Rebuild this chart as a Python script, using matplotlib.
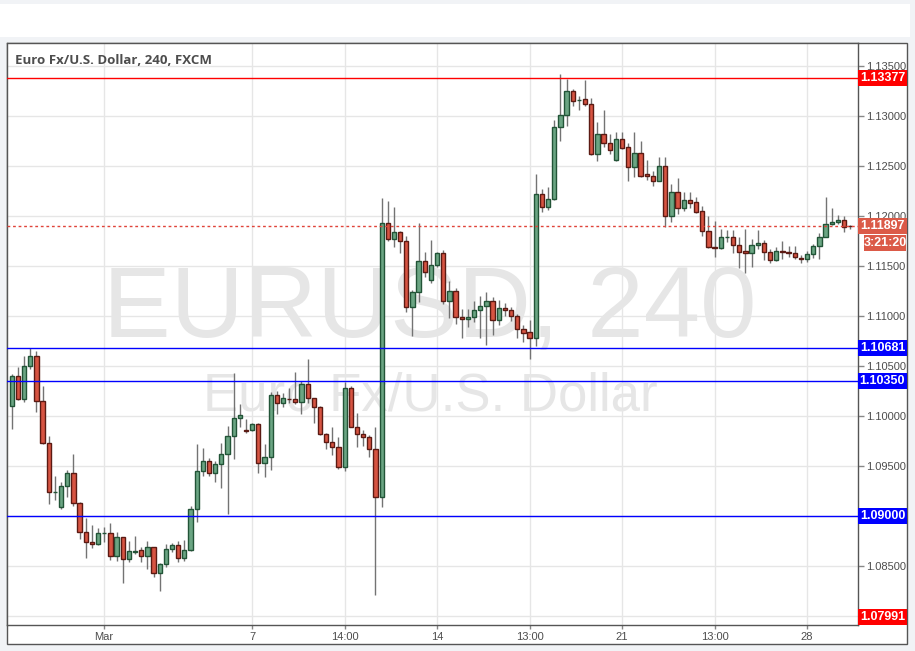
import numpy as np
import matplotlib
matplotlib.use('Agg')
from matplotlib import pyplot as plt
from matplotlib.patches import Rectangle
from matplotlib.transforms import blended_transform_factory


# =============================================================================
# Data (EUR/USD, 4h candles)
# =============================================================================
opens = [
    1.10097, 1.10397, 1.10167, 1.10500, 1.10600, 1.10150, 1.09727, 1.09237,
    1.09093, 1.09300, 1.09427, 1.09133, 1.08837, 1.08737, 1.08717, 1.08827,
    1.08830, 1.08597, 1.08787, 1.08567, 1.08643, 1.08657, 1.08597, 1.08687,
    1.08427, 1.08517, 1.08667, 1.08707, 1.08577, 1.08657, 1.09067, 1.09447,
    1.09547, 1.09427, 1.09517, 1.09617, 1.09797, 1.09977, 1.09860, 1.09860,
    1.09917, 1.09527, 1.09587, 1.10207, 1.10127, 1.10173, 1.10167, 1.10137,
    1.10320, 1.10177, 1.10087, 1.09817, 1.09743, 1.09693, 1.09493, 1.10277,
    1.09893, 1.09817, 1.09793, 1.09667, 1.09187, 1.11927, 1.11767, 1.11837,
    1.11753, 1.11093, 1.11237, 1.11547, 1.11357, 1.11507, 1.11627, 1.11147,
    1.11247, 1.10993, 1.10967, 1.10987, 1.11057, 1.11097, 1.11147, 1.10957,
    1.11080, 1.11057, 1.10997, 1.10867, 1.10837, 1.10783, 1.12217, 1.12093,
    1.12167, 1.12890, 1.13007, 1.13247, 1.13157, 1.13167, 1.13117, 1.12623,
    1.12817, 1.12727, 1.12557, 1.12767, 1.12687, 1.12487, 1.12627, 1.12417,
    1.12400, 1.12353, 1.12500, 1.12003, 1.12237, 1.12083, 1.12157, 1.12137,
    1.12047, 1.11847, 1.11687, 1.11677, 1.11787, 1.11787, 1.11707, 1.11647,
    1.11627, 1.11707, 1.11730, 1.11637, 1.11563, 1.11650, 1.11640, 1.11627,
    1.11580, 1.11567, 1.11617, 1.11700, 1.11793, 1.11920, 1.11937, 1.11957,
    1.11903]
highs = [
    1.10420, 1.10487, 1.10600, 1.10680, 1.10650, 1.10300, 1.09800, 1.09400,
    1.09340, 1.09460, 1.09620, 1.09140, 1.08977, 1.08910, 1.08880, 1.08893,
    1.08927, 1.08843, 1.08787, 1.08753, 1.08800, 1.08693, 1.08750, 1.08687,
    1.08527, 1.08717, 1.08733, 1.08753, 1.08760, 1.09103, 1.09720, 1.09680,
    1.09580, 1.09550, 1.09733, 1.09900, 1.10430, 1.10120, 1.09970, 1.09927,
    1.09933, 1.09720, 1.10240, 1.10250, 1.10230, 1.10280, 1.10440, 1.10353,
    1.10570, 1.10180, 1.10100, 1.09827, 1.09887, 1.09790, 1.10343, 1.10300,
    1.10030, 1.09860, 1.09810, 1.09887, 1.12180, 1.12150, 1.12090, 1.11847,
    1.11800, 1.11260, 1.11930, 1.11640, 1.11760, 1.11643, 1.11657, 1.11353,
    1.11277, 1.11070, 1.11070, 1.11150, 1.11197, 1.11240, 1.11187, 1.11160,
    1.11127, 1.11093, 1.11017, 1.10910, 1.10960, 1.12420, 1.12267, 1.12290,
    1.12957, 1.13420, 1.13370, 1.13267, 1.13200, 1.13360, 1.13177, 1.12943,
    1.13060, 1.12820, 1.12840, 1.12840, 1.12727, 1.12840, 1.12753, 1.12560,
    1.12453, 1.12593, 1.12593, 1.12320, 1.12383, 1.12240, 1.12240, 1.12190,
    1.12100, 1.12003, 1.11950, 1.11870, 1.11860, 1.11860, 1.11790, 1.11867,
    1.11767, 1.11860, 1.11757, 1.11670, 1.11693, 1.11747, 1.11700, 1.11700,
    1.11607, 1.11647, 1.11720, 1.11833, 1.12193, 1.12080, 1.12010, 1.12000,
    1.11910]
lows = [
    1.09867, 1.10160, 1.10143, 1.10467, 1.10043, 1.09717, 1.09117, 1.09160,
    1.09073, 1.09193, 1.09100, 1.08770, 1.08583, 1.08683, 1.08710, 1.08740,
    1.08560, 1.08553, 1.08333, 1.08537, 1.08620, 1.08537, 1.08467, 1.08393,
    1.08253, 1.08487, 1.08640, 1.08537, 1.08553, 1.08653, 1.08937, 1.09400,
    1.09403, 1.09343, 1.09283, 1.09023, 1.09573, 1.09893, 1.09833, 1.09853,
    1.09433, 1.09393, 1.09463, 1.10023, 1.10090, 1.10133, 1.10117, 1.10017,
    1.10127, 1.09933, 1.09810, 1.09673, 1.09610, 1.09470, 1.09453, 1.09887,
    1.09693, 1.09700, 1.09593, 1.08210, 1.09093, 1.11753, 1.11690, 1.11627,
    1.11043, 1.10803, 1.11143, 1.11387, 1.11333, 1.11487, 1.11120, 1.10983,
    1.10920, 1.10777, 1.10893, 1.10943, 1.10777, 1.10713, 1.10813, 1.10913,
    1.10997, 1.10947, 1.10777, 1.10743, 1.10570, 1.10700, 1.12040, 1.12063,
    1.12160, 1.12750, 1.12903, 1.13103, 1.13060, 1.13103, 1.12607, 1.12553,
    1.12693, 1.12623, 1.12553, 1.12670, 1.12353, 1.12390, 1.12393, 1.12360,
    1.12300, 1.12350, 1.11887, 1.11940, 1.12017, 1.12053, 1.12083, 1.12033,
    1.11800, 1.11680, 1.11590, 1.11670, 1.11743, 1.11633, 1.11483, 1.11433,
    1.11493, 1.11670, 1.11560, 1.11527, 1.11553, 1.11570, 1.11593, 1.11567,
    1.11527, 1.11537, 1.11577, 1.11570, 1.11793, 1.11910, 1.11923, 1.11843,
    1.11867]
closes = [
    1.10397, 1.10167, 1.10500, 1.10600, 1.10150, 1.09727, 1.09237, 1.09240,
    1.09300, 1.09427, 1.09133, 1.08837, 1.08737, 1.08717, 1.08827, 1.08833,
    1.08597, 1.08787, 1.08567, 1.08650, 1.08653, 1.08597, 1.08687, 1.08427,
    1.08517, 1.08667, 1.08707, 1.08577, 1.08657, 1.09067, 1.09447, 1.09547,
    1.09427, 1.09517, 1.09617, 1.09797, 1.09977, 1.10007, 1.09853, 1.09917,
    1.09527, 1.09587, 1.10207, 1.10127, 1.10177, 1.10167, 1.10137, 1.10320,
    1.10177, 1.10087, 1.09817, 1.09743, 1.09693, 1.09493, 1.10277, 1.09893,
    1.09817, 1.09793, 1.09667, 1.09187, 1.11927, 1.11767, 1.11837, 1.11753,
    1.11093, 1.11237, 1.11547, 1.11437, 1.11507, 1.11627, 1.11147, 1.11247,
    1.10993, 1.10967, 1.10990, 1.11057, 1.11097, 1.11147, 1.10957, 1.11077,
    1.11057, 1.10997, 1.10867, 1.10833, 1.10783, 1.12217, 1.12093, 1.12167,
    1.12890, 1.13007, 1.13247, 1.13153, 1.13163, 1.13117, 1.12623, 1.12817,
    1.12727, 1.12657, 1.12767, 1.12683, 1.12487, 1.12627, 1.12400, 1.12400,
    1.12353, 1.12500, 1.12003, 1.12237, 1.12083, 1.12157, 1.12133, 1.12040,
    1.11847, 1.11687, 1.11677, 1.11787, 1.11790, 1.11707, 1.11643, 1.11627,
    1.11707, 1.11730, 1.11637, 1.11563, 1.11650, 1.11640, 1.11627, 1.11587,
    1.11567, 1.11617, 1.11700, 1.11793, 1.11920, 1.11937, 1.11957, 1.11893,
    1.11897]

# x-axis ticks (candle index) and labels
xtick_pos = [15, 39, 54, 69, 84, 99, 114, 129]
xtick_labels = ['Mar', '7', '14:00', '14', '13:00', '21', '13:00', '28']

# Horizontal levels drawn on the chart
resistance = 1.13377
supports = [1.10681, 1.10350, 1.09000]
chart_low = 1.07991
countdown = '3:21:20'


# =============================================================================
# Plot parameters
# =============================================================================
W, H = 915, 651
up_fill, up_edge = '#6ba583', '#225437'
dn_fill, dn_edge = '#d75442', '#5b1a13'
wick_col = '#737373'
grid_col = '#e6e6e6'
frame_col = '#555555'
txt_col = '#4d4d4d'
font = ['Liberation Sans', 'DejaVu Sans']
plt.rcParams['font.family'] = font

fig = plt.figure(figsize=(W/100, H/100), dpi=100, facecolor='#f1f3f6')

# Toolbar band and chart frame
fig.patches.append(Rectangle((0, 1 - 37/H), 910/W, 33/H,
    transform=fig.transFigure, facecolor='white', edgecolor='none',
    zorder=-2))
fig.patches.append(Rectangle((7/W, 1 - 644/H), 900/W, 601/H,
    transform=fig.transFigure, facecolor='white', edgecolor=frame_col,
    linewidth=1, zorder=-1))

ax = fig.add_axes([7/W, 1 - 625/H, 851/W, 582/H])
ax.set_zorder(2)
ax.set_facecolor('white')
ax.set_axisbelow(True)

opens = np.asarray(opens)
closes = np.asarray(closes)
highs = np.asarray(highs)
lows = np.asarray(lows)
idx = np.arange(len(opens))
up = closes >= opens

# Wicks
ax.vlines(idx, lows, highs, color=wick_col, linewidth=1, zorder=2)

# Bodies
bottom = np.minimum(opens, closes)
height = np.maximum(np.abs(closes - opens), 0.00003)
ax.bar(idx[up], height[up], bottom=bottom[up], width=0.7, color=up_fill,
    edgecolor=up_edge, linewidth=1, zorder=3)
ax.bar(idx[~up], height[~up], bottom=bottom[~up], width=0.7, color=dn_fill,
    edgecolor=dn_edge, linewidth=1, zorder=3)

# Horizontal levels
ax.axhline(resistance, color='#ff0000', linewidth=1, zorder=4)
for lvl in supports:
    ax.axhline(lvl, color='#0000ff', linewidth=1, zorder=4)
last = closes[-1]
ax.axhline(last, color='#e0443a', linewidth=1, linestyle=(0, (2, 2)),
    zorder=4)

# Watermark
ax.text(0.497, 0.4948, 'EURUSD, 240', transform=ax.transAxes, ha='center',
    va='baseline', fontsize=73, color='#e6e6e6', zorder=1)
ax.text(0.497, 0.3694, 'Euro Fx/U.S. Dollar', transform=ax.transAxes,
    ha='center', va='baseline', fontsize=38, color='#e6e6e6', zorder=1)

# Title
ax.text(8/851, 1 - 17/582, 'Euro Fx/U.S. Dollar, 240, FXCM',
    transform=ax.transAxes, ha='left', va='center', fontsize=9.5,
    fontweight='bold', color=txt_col, family=['Open Sans', 'DejaVu Sans'],
    zorder=6)

# Axis limits
ax.set_xlim(-0.76, 137.25)
ax.set_ylim(1.0791, 1.1373)

# x-axis parameters
ax.set_xticks(xtick_pos)
ax.set_xticklabels(xtick_labels)
ax.tick_params(axis='x', length=3, width=1, color='#888888', labelsize=8,
    labelcolor=txt_col, pad=2)

# y-axis parameters (right side); labels hidden behind price boxes are blank
yticks = np.round(np.arange(1.080, 1.1351, 0.005), 3)
hidden = [1.080, 1.090]
ax.yaxis.tick_right()
ax.set_yticks(yticks)
ax.set_yticklabels(['' if v in hidden else f'{v:.5f}' for v in yticks])
ax.tick_params(axis='y', length=4, width=1, color='#888888', labelsize=8,
    labelcolor=txt_col, pad=2)

ax.grid(True, color=grid_col, linewidth=1)
for sp in ax.spines.values():
    sp.set_color(frame_col)
    sp.set_linewidth(1)

# Price labels on the right axis
trans = blended_transform_factory(ax.transAxes, ax.transData)
box_w = 49/851
box_h = 16/10000
def price_label(y, text, color, x0=1.0, w=box_w):
    ax.add_patch(Rectangle((x0, y - box_h/2), w, box_h, transform=trans,
        facecolor=color, edgecolor='none', clip_on=False, zorder=10))
    ax.text(x0 + w/2, y, text, transform=trans, ha='center', va='center',
        fontsize=9, fontweight='bold', color='white', clip_on=False,
        zorder=11)

price_label(resistance, f'{resistance:.5f}', '#ff0000')
for lvl in supports:
    price_label(lvl, f'{lvl:.5f}', '#0000ff')
price_label(last, f'{last:.5f}', '#db5a48')
price_label(last - 0.0017, countdown, '#db5a48', x0=1.0 + 6/851, w=42/851)
price_label(chart_low, f'{chart_low:.5f}', '#ff0000')

fig.savefig('out.png', dpi=100, facecolor=fig.get_facecolor())
plt.close()
